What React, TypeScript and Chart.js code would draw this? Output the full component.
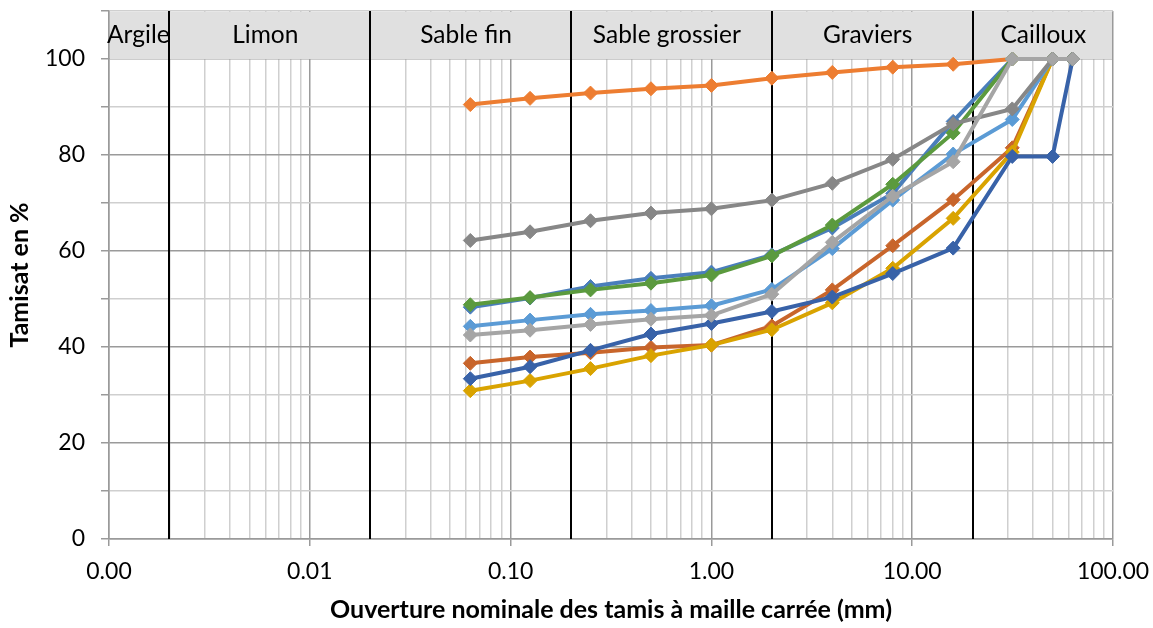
import React, { useEffect, useRef } from "react";
import { Chart, registerables } from "chart.js";

Chart.register(...registerables);

// ---- data ----
const SIEVES = [0.063, 0.125, 0.25, 0.5, 1, 2, 4, 8, 16, 31.5, 50, 63];

const SERIES_LIGHT_GRAY = [42.5, 43.5, 44.7, 45.8, 46.6, 51.0, 61.8, 71.4, 78.6, 100, 100, 100];
const SERIES_DARK_GRAY = [62.2, 64.0, 66.3, 67.9, 68.8, 70.6, 74.1, 79.1, 86.5, 89.6, 100, 100];
const SERIES_GREEN = [48.8, 50.3, 51.9, 53.3, 55.0, 59.0, 65.4, 73.9, 84.6, 100, 100, 100];
const SERIES_LIGHT_BLUE = [44.3, 45.6, 46.8, 47.6, 48.6, 52.0, 60.5, 70.6, 80.2, 87.4, 100, 100];
const SERIES_DARK_BLUE = [33.4, 35.9, 39.3, 42.7, 44.9, 47.4, 50.4, 55.3, 60.6, 79.7, 79.7, 100];
const SERIES_GOLD = [30.9, 33.0, 35.5, 38.2, 40.4, 43.6, 49.2, 56.4, 66.8, 80.6, 100, 100];
const SERIES_BROWN = [36.6, 37.9, 38.8, 39.9, 40.4, 44.4, 51.9, 61.1, 70.7, 81.5, 100, 100];
const SERIES_ORANGE = [90.5, 91.8, 92.9, 93.8, 94.5, 96.0, 97.2, 98.3, 98.9, 100, 100, 100];
const SERIES_STEEL_BLUE = [48.3, 50.2, 52.6, 54.3, 55.6, 59.2, 64.8, 72.0, 87.0, 100, 100, 100];

const X_DECADES = [0.001, 0.01, 0.1, 1, 10, 100];
const X_TICK_LABELS = ["0.00", "0.01", "0.10", "1.00", "10.00", "100.00"];
const Y_MAJOR_TICKS = [0, 20, 40, 60, 80, 100];

const ZONE_NAMES = ["Argile", "Limon", "Sable fin", "Sable grossier", "Graviers", "Cailloux"];
const ZONE_BOUNDS = [0.002, 0.02, 0.2, 2, 20];
const ZONE_LABEL_X = [0.0014, 0.006, 0.06, 0.6, 6, 45];

const X_TITLE = "Ouverture nominale des tamis à maille carrée (mm)";
const Y_TITLE = "Tamisat en %";

const FONT = "Lato";

const SERIES = [
  { data: SERIES_LIGHT_GRAY, color: "#A5A5A5" },
  { data: SERIES_DARK_GRAY, color: "#878787" },
  { data: SERIES_GREEN, color: "#5B9A3E" },
  { data: SERIES_LIGHT_BLUE, color: "#5B9BD5" },
  { data: SERIES_DARK_BLUE, color: "#3862A8" },
  { data: SERIES_GOLD, color: "#D9A300" },
  { data: SERIES_BROWN, color: "#C8652B" },
  { data: SERIES_ORANGE, color: "#ED7D31" },
  { data: SERIES_STEEL_BLUE, color: "#4A7EBB" },
];

// all log ticks 1..9 x decade
const X_ALL_TICKS: number[] = [];
for (let e = -3; e < 2; e++) {
  for (let k = 1; k < 10; k++) X_ALL_TICKS.push(Number((k * Math.pow(10, e)).toPrecision(3)));
}
X_ALL_TICKS.push(100);

const isDecade = (v: number) => X_DECADES.some((d) => Math.abs(d - v) / d < 1e-6);

const zonePlugin = {
  id: "zones",
  beforeDatasetsDraw(chart: any) {
    const { ctx, chartArea, scales } = chart;
    const x = scales.x;
    const y = scales.y;
    const yTop = y.getPixelForValue(110);
    const yBand = y.getPixelForValue(100);
    ctx.save();
    ctx.fillStyle = "#E0E0E0";
    ctx.fillRect(chartArea.left + 1, yTop + 1, chartArea.right - chartArea.left - 2, yBand - yTop - 1);
    ctx.fillStyle = "#000";
    ctx.font = `24.5px ${FONT}`;
    ctx.textAlign = "center";
    ctx.textBaseline = "middle";
    ZONE_NAMES.forEach((n, i) => {
      ctx.fillText(n, x.getPixelForValue(ZONE_LABEL_X[i]), y.getPixelForValue(104.9));
    });
    ctx.strokeStyle = "#000";
    ctx.lineWidth = 2;
    ZONE_BOUNDS.forEach((b) => {
      const px = Math.round(x.getPixelForValue(b));
      ctx.beginPath();
      ctx.moveTo(px, chartArea.top);
      ctx.lineTo(px, chartArea.bottom);
      ctx.stroke();
    });
    ctx.restore();
  },
};

export default function App() {
  const ref = useRef<HTMLCanvasElement>(null);
  useEffect(() => {
    document.body.style.margin = "0";
    const chart = new Chart(ref.current!, {
      type: "line",
      data: {
        datasets: SERIES.map((s) => ({
          data: SIEVES.map((sv, i) => ({ x: sv, y: s.data[i] })),
          borderColor: s.color,
          backgroundColor: s.color,
          pointBackgroundColor: s.color,
          pointBorderColor: s.color,
          borderWidth: 4,
          pointStyle: "rectRot",
          pointRadius: 7,
          pointBorderWidth: 1,
          tension: 0,
          fill: false,
        })),
      },
      options: {
        responsive: false,
        animation: false,
        layout: { padding: { left: 0, top: 11, right: 40, bottom: 0 } },
        plugins: { legend: { display: false }, tooltip: { enabled: false } },
        scales: {
          x: {
            type: "logarithmic",
            min: 0.001,
            max: 100,
            afterBuildTicks: (scale: any) => {
              scale.ticks = X_ALL_TICKS.map((v) => ({ value: v, major: isDecade(v) }));
            },
            afterFit: (scale: any) => {
              scale.height = 628 - 539;
              scale.paddingLeft = 0;
              scale.paddingRight = 0;
            },
            ticks: {
              autoSkip: false,
              maxRotation: 0,
              minRotation: 0,
              padding: 12,
              color: "#000",
              font: { family: FONT, size: 23 },
              callback: (v: any) => {
                const idx = X_DECADES.findIndex((d) => Math.abs(d - Number(v)) / d < 1e-6);
                return idx >= 0 ? X_TICK_LABELS[idx] : "";
              },
            },
            grid: {
              color: (c: any) => (c.tick && isDecade(c.tick.value) ? "#9A9A9A" : "#CFCFCF"),
              tickColor: (c: any) => (c.tick && isDecade(c.tick.value) ? "#9A9A9A" : "rgba(0,0,0,0)"),
              tickLength: 7,
              lineWidth: 1.5,
            },
            border: { color: "#9A9A9A", width: 1.5 },
            title: {
              display: true,
              text: X_TITLE,
              color: "#000",
              font: { family: FONT, size: 25, weight: "bold" },
              padding: { top: 0, bottom: 3 },
            },
          },
          y: {
            min: 0,
            max: 110,
            afterBuildTicks: (scale: any) => {
              const t = [];
              for (let v = 0; v <= 110; v += 10) t.push({ value: v });
              scale.ticks = t;
            },
            afterFit: (scale: any) => {
              scale.width = 109;
              scale.paddingTop = 0;
              scale.paddingBottom = 0;
            },
            ticks: {
              padding: 16,
              color: "#000",
              font: { family: FONT, size: 23 },
              callback: (v: any) => (Y_MAJOR_TICKS.includes(Number(v)) ? String(v) : ""),
            },
            grid: {
              color: (c: any) => (c.tick && c.tick.value % 20 === 0 ? "#9A9A9A" : "#CFCFCF"),
              tickColor: "#9A9A9A",
              tickLength: 8,
              lineWidth: 1.5,
            },
            border: { color: "#9A9A9A", width: 1.5 },
            title: {
              display: true,
              text: Y_TITLE,
              color: "#000",
              font: { family: FONT, size: 25, weight: "bold" },
              padding: { top: 5, bottom: 0 },
            },
          },
        },
      } as any,
      plugins: [zonePlugin],
    });
    return () => chart.destroy();
  }, []);
  return (
    <div style={{ width: 1153, height: 628 }}>
      <canvas ref={ref} width={1153} height={628} />
    </div>
  );
}
